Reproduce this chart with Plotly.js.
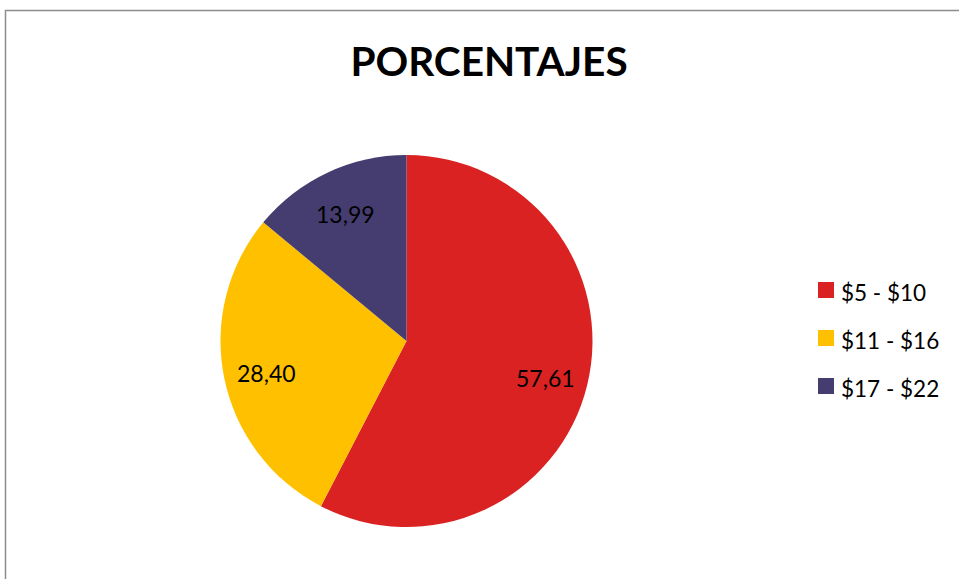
<!DOCTYPE html>
<html>
<head>
<meta charset="utf-8">
<script src="https://cdn.plot.ly/plotly-3.0.1.min.js"></script>
<style>html,body{margin:0;padding:0;background:#fff;}#chart{width:959px;height:579px;}</style>
</head>
<body>
<div id="chart"></div>
<script>
// Data
const categories = ["$5 - $10", "$11 - $16", "$17 - $22"];
const values = [57.61, 28.40, 13.99];
const colors = ["#DA2222", "#FFC000", "#453D70"];
const chartTitle = "PORCENTAJES";

const W = 959, H = 579;
const M = {l: 220, r: 366, t: 155, b: 52};
const PW = W - M.l - M.r, PH = H - M.t - M.b;
const px2x = p => (p - M.l) / PW;
const py2y = p => 1 - (p - M.t) / PH;
const font = "Lato, 'Open Sans', sans-serif";

// Data labels at ~0.77 radius, computed from the values
const total = values.reduce((a, b) => a + b, 0);
const R = Math.min(PW, PH) / 2;
const annotations = [];
let cum = 0;
values.forEach((v, i) => {
  const mid = (cum + v / 2) / total * 2 * Math.PI;
  cum += v;
  const cx = M.l + PW / 2, cy = M.t + PH / 2;
  const lx = cx + 0.77 * R * Math.sin(mid);
  const ly = cy - 0.77 * R * Math.cos(mid) + 3;
  annotations.push({
    x: px2x(lx), y: py2y(ly), xref: "paper", yref: "paper",
    text: v.toFixed(2).replace(".", ","), showarrow: false,
    font: {family: font, size: 23, color: "#000"},
    xanchor: "center", yanchor: "middle"
  });
});

// Custom legend built from categories and colors
const shapes = [];
categories.forEach((c, i) => {
  const yc = 290 + i * 48;
  shapes.push({
    type: "rect", xref: "paper", yref: "paper",
    x0: px2x(818), x1: px2x(834), y0: py2y(yc - 8), y1: py2y(yc + 8),
    fillcolor: colors[i], line: {width: 0}
  });
  annotations.push({
    x: px2x(839), y: py2y(yc + 2), xref: "paper", yref: "paper",
    text: c, showarrow: false, xanchor: "left", yanchor: "middle",
    font: {family: font, size: 22.5, color: "#000"}
  });
});

// Chart border
shapes.push({
  type: "rect", xref: "paper", yref: "paper",
  x0: px2x(5.5), x1: px2x(W + 20), y0: py2y(H + 20), y1: py2y(10.5),
  line: {color: "#8C8C8C", width: 1.5}, fillcolor: "rgba(0,0,0,0)", layer: "below"
});

const trace = {
  type: "pie",
  labels: categories,
  values: values,
  sort: false,
  direction: "clockwise",
  rotation: 0,
  marker: {colors: colors, line: {width: 0}},
  textinfo: "none",
  hoverinfo: "label+value",
  showlegend: false
};

const layout = {
  width: W, height: H,
  margin: M,
  paper_bgcolor: "#fff",
  showlegend: false,
  title: {
    text: "<b>" + chartTitle + "</b>",
    x: 489 / W, xref: "container", xanchor: "center",
    y: 1 - 62 / H, yref: "container", yanchor: "middle",
    font: {family: font, size: 40.5, color: "#000"}
  },
  annotations: annotations,
  shapes: shapes
};

Plotly.newPlot("chart", [trace], layout, {displayModeBar: false, staticPlot: true});
</script>
</body>
</html>
